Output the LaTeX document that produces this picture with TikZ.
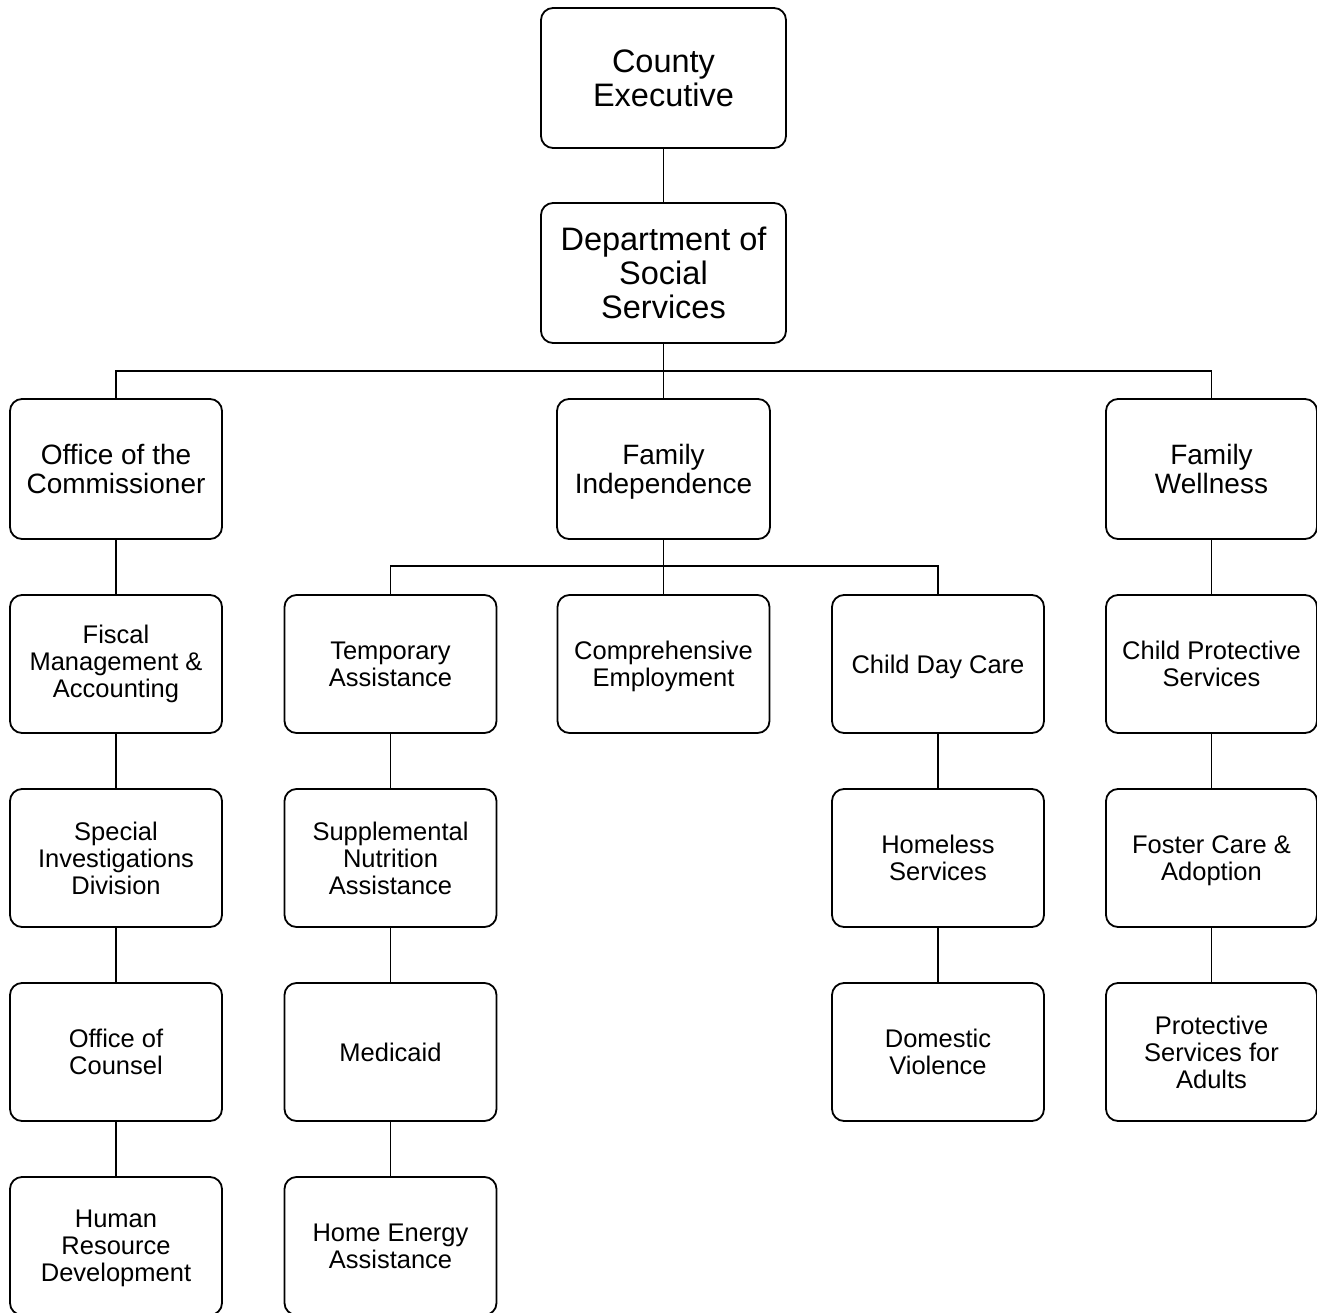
\documentclass[tikz,border=0pt]{standalone}
\usepackage{fontspec}
\setmainfont{Liberation Sans}
% last line without descender depth, so boxes centre on the cap line block
\newcommand{\nodepth}[1]{\raisebox{0pt}[\height][0pt]{#1}}
\begin{document}
\begin{tikzpicture}[x=1pt,y=-1pt,
  unit/.style={draw=black, line width=1.8pt, rounded corners=12pt, align=center,
    inner sep=0pt, minimum width=212pt, minimum height=138pt, text=black},
  topunit/.style={unit, minimum width=245pt, minimum height=140pt,
    font=\fontsize{32.5}{34}\selectfont},
  headunit/.style={unit, minimum height=140pt, font=\fontsize{28}{29}\selectfont},
  subunit/.style={unit, font=\fontsize{25.5}{27}\selectfont},
  link/.style={line width=1.8pt, draw=black}]
\useasboundingbox (0,0) rectangle (1317,1313);

% executive level
\node[topunit] (ce)  at (663.5,78)  {County\\Executive};
\node[topunit] (dss) at (663.5,273) {Department of\\Social\\Services};

% divisions
\node[headunit, minimum width=212pt] (oc) at (116,469)    {Office of the\\Commissioner};
\node[headunit, minimum width=213pt] (fi) at (663.5,469)  {Family\\\nodepth{Independence}};
\node[headunit, minimum width=211pt] (fw) at (1211.5,469) {Family\\Wellness};

% Office of the Commissioner column
\node[subunit] (fma) at (116,664)  {Fiscal\\Management \&\\Accounting};
\node[subunit] (sid) at (116,858)  {Special\\Investigations\\Division};
\node[subunit] (ocl) at (116,1052) {Office of\\Counsel};
\node[subunit] (hrd) at (116,1246) {Human\\Resource\\\nodepth{Development}};

% Family Independence columns
\node[subunit] (ta)  at (390.5,664)  {Temporary\\Assistance};
\node[subunit] (sna) at (390.5,858)  {Supplemental\\Nutrition\\Assistance};
\node[subunit] (med) at (390.5,1052) {Medicaid};
\node[subunit] (hea) at (390.5,1246) {Home Energy\\Assistance};
\node[subunit] (ce2) at (663.5,664)  {Comprehensive\\\nodepth{Employment}};
\node[subunit] (cdc) at (938,664)    {\nodepth{Child Day Care}};
\node[subunit] (hs)  at (938,858)    {Homeless\\Services};
\node[subunit] (dv)  at (938,1052)   {Domestic\\Violence};

% Family Wellness column
\node[subunit, minimum width=211pt] (cps) at (1211.5,664)  {Child Protective\\Services};
\node[subunit, minimum width=211pt] (fca) at (1211.5,858)  {Foster Care \&\\\nodepth{Adoption}};
\node[subunit, minimum width=211pt] (psa) at (1211.5,1052) {Protective\\Services for\\Adults};

% bus lines
\coordinate (busA) at (0,371);
\coordinate (busB) at (0,566);

\draw[link] (ce.south) -- (dss.north);
\draw[link] (dss.south) -- (fi.north);
\draw[link] (oc.north) -- (oc.north |- busA) -- (fw.north |- busA) -- (fw.north);
\draw[link] (fi.south) -- (ce2.north);
\draw[link] (ta.north) -- (ta.north |- busB) -- (cdc.north |- busB) -- (cdc.north);

\draw[link] (oc.south) -- (fma.north);
\draw[link] (fma.south) -- (sid.north);
\draw[link] (sid.south) -- (ocl.north);
\draw[link] (ocl.south) -- (hrd.north);

\draw[link] (ta.south) -- (sna.north);
\draw[link] (sna.south) -- (med.north);
\draw[link] (med.south) -- (hea.north);

\draw[link] (cdc.south) -- (hs.north);
\draw[link] (hs.south) -- (dv.north);

\draw[link] (fw.south) -- (cps.north);
\draw[link] (cps.south) -- (fca.north);
\draw[link] (fca.south) -- (psa.north);
\end{tikzpicture}
\end{document}
